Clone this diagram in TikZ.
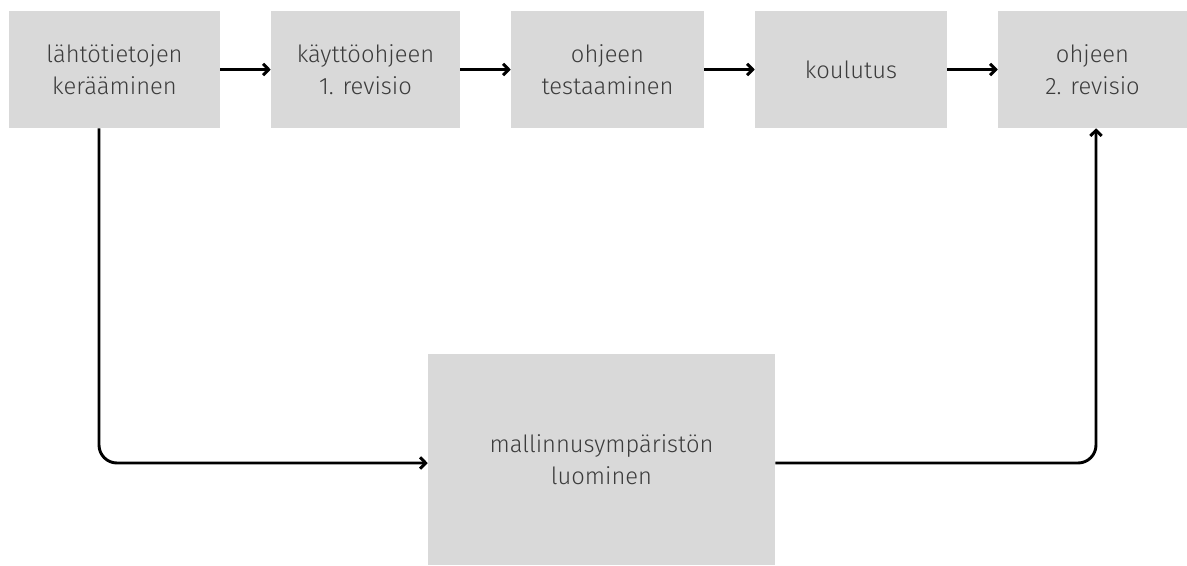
\documentclass[tikz,border=0pt]{standalone}
\usepackage{fontspec}
\setmainfont{Fira Sans}[UprightFont={* Light}]
\usetikzlibrary{arrows.meta}
\definecolor{boxfill}{HTML}{D9D9D9}
\definecolor{boxtext}{HTML}{3C3C3C}
\tikzset{
  stepbox/.style={fill=boxfill, draw=none, inner sep=0pt, align=center,
    text=boxtext, font=\fontsize{17.8}{24}\selectfont, minimum height=117*0.75pt},
  arr/.style={line width=2.2pt, -{Straight Barb[length=4.2pt,width=8.5pt,line width=2.2pt]}}
}
\begin{document}
\begin{tikzpicture}[x=0.75pt,y=-0.75pt]
\useasboundingbox (0,0) rectangle (1187,565);
\node[stepbox, minimum width=211*0.75pt] (b1) at (114.5,69.5) {lähtötietojen\\kerääminen};
\node[stepbox, minimum width=189*0.75pt] (b2) at (365.5,69.5) {käyttöohjeen\\1. revisio};
\node[stepbox, minimum width=193*0.75pt] (b3) at (607.5,69.5) {ohjeen\\testaaminen};
\node[stepbox, minimum width=192*0.75pt] (b4) at (851,69.5) {koulutus};
\node[stepbox, minimum width=189*0.75pt] (b5) at (1092.5,69.5) {ohjeen\\2. revisio};
\node[stepbox, minimum width=347*0.75pt, minimum height=211*0.75pt] (b6) at (601.5,459.5) {mallinnusympäristön\\luominen};
\coordinate (c1) at (99,463);
\coordinate (c2) at (1096,463);
\draw[arr] (b1) -- (b2);
\draw[arr] (b2) -- (b3);
\draw[arr] (b3) -- (b4);
\draw[arr] (b4) -- (b5);
\draw[arr, rounded corners=13.5pt] (b1.south -| c1) -- (c1) -- (c1 -| b6.west);
\draw[arr, rounded corners=13.5pt] (b6.east |- c2) -- (c2) -- (c2 |- b5.south);
\end{tikzpicture}
\end{document}
